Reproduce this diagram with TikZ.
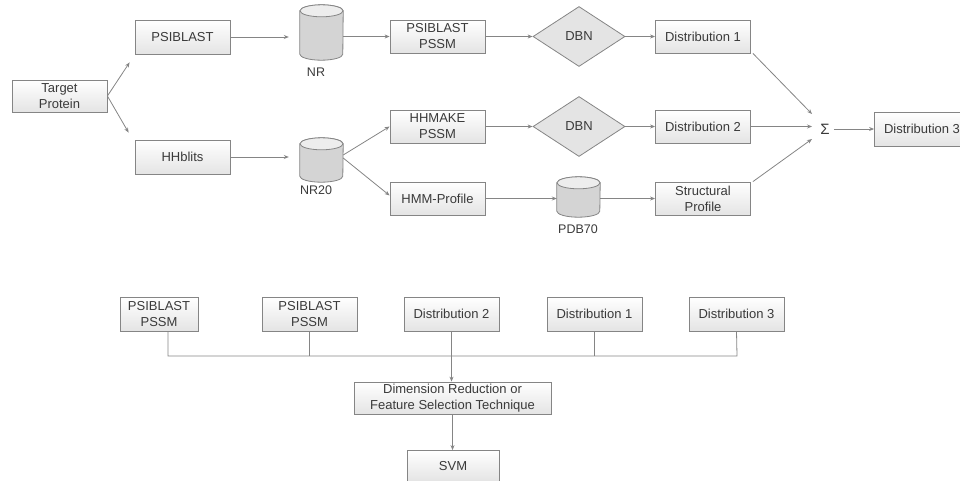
\documentclass[tikz,border=0pt]{standalone}
\usepackage{fontspec}
\setmainfont{Liberation Sans}
\usetikzlibrary{shapes.geometric,arrows.meta}
\definecolor{linegray}{HTML}{858585}
\definecolor{boxgray}{HTML}{E4E4E4}
\definecolor{txtgray}{HTML}{3A3A3A}
\definecolor{cylbody}{HTML}{D4D4D4}
\definecolor{cyltop}{HTML}{EDEDED}
\newcommand\drawcyl[1]{%
  \path[draw=linegray,line width=0.8pt,fill=cylbody]
    ([yshift=-6pt]#1.north west) -- ([yshift=6pt]#1.south west)
    arc[start angle=180,end angle=360,x radius=21.5pt,y radius=6pt]
    -- ([yshift=-6pt]#1.north east)
    arc[start angle=0,end angle=180,x radius=21.5pt,y radius=6pt] -- cycle;
  \path[draw=linegray,line width=0.8pt,fill=cyltop]
    ([yshift=-6pt]#1.north) ellipse[x radius=21.5pt,y radius=6pt];
}
\begin{document}
\begin{tikzpicture}[x=1pt,y=-1pt,
  box/.style={draw=linegray,line width=0.8pt,top color=white,bottom color=boxgray,
    minimum width=95pt,minimum height=33pt,inner sep=1pt,align=center,
    font=\fontsize{13}{16}\selectfont,text=txtgray},
  dbn/.style={diamond,draw=linegray,line width=0.8pt,fill=boxgray,
    minimum width=92pt,minimum height=60pt,inner sep=0pt,
    font=\fontsize{13}{16}\selectfont,text=txtgray},
  cylnode/.style={rectangle,draw=none,inner sep=0pt,minimum width=43pt},
  dblbl/.style={font=\fontsize{12.5}{15}\selectfont,text=txtgray,inner sep=0pt},
  conn/.style={draw=linegray,line width=0.8pt},
  arr/.style={conn,-{Stealth[length=5pt,width=4pt]}}
]
\useasboundingbox (0,0) rectangle (960,480);

% top section
\node[box,minimum height=32pt] (tp) at (59.5,96) {Target\\Protein};
\node[box,minimum height=34pt] (psi) at (182.5,37) {PSIBLAST};
\node[box,minimum height=34pt] (hhb) at (182.5,157) {HHblits};

\node[cylnode,minimum height=55pt] (nr) at (321.5,32.5) {};
\drawcyl{nr}
\node[dblbl] (nrl) at (316,72) {NR};

\node[cylnode,minimum height=44pt] (nr20) at (321.5,160) {};
\drawcyl{nr20}
\node[dblbl] (nr20l) at (316,190) {NR20};

\node[box] (pssm1) at (437.5,36.5) {PSIBLAST\\PSSM};
\node[box] (hhm) at (437.5,126.5) {HHMAKE\\PSSM};
\node[box] (hmm) at (437.5,198.5) {HMM-Profile};

\node[dbn] (dbn1) at (579,36.5) {DBN};
\node[dbn] (dbn2) at (579,126.5) {DBN};

\node[cylnode,minimum height=40pt] (pdb) at (578.5,197) {};
\drawcyl{pdb}
\node[dblbl] (pdbl) at (578,229) {PDB70};

\node[box] (d1) at (703,36.5) {Distribution 1};
\node[box] (d2) at (703,126.5) {Distribution 2};
\node[box] (sp) at (703,198.5) {Structural\\Profile};

\node[text=txtgray,font=\fontsize{15}{15}\selectfont,inner sep=0pt] (sig) at (825,129) {Σ};
\node[box,minimum height=34pt] (d3) at (922,129) {Distribution 3};

\draw[arr] (tp.east) -- ([xshift=-5pt,yshift=-8pt]psi.south west);
\draw[arr] (tp.east) -- ([xshift=-6pt,yshift=7pt]hhb.north west);
\draw[arr,shorten >=11pt] (psi.east) -- (psi.east -| nr.west);
\draw[arr,shorten >=11pt] (hhb.east) -- (hhb.east -| nr20.west);
\draw[arr] (nr.east |- pssm1.west) -- (pssm1.west);
\draw[arr] ([yshift=5pt]nr20.east) -- (hhm.west);
\draw[arr] ([yshift=2pt]nr20.east) -- ([yshift=3pt]hmm.west);
\draw[arr] (pssm1.east) -- (dbn1.west);
\draw[arr] (hhm.east) -- (dbn2.west);
\draw[arr] (hmm.east) -- (pdb.west |- hmm.east);
\draw[arr] (dbn1.east) -- (d1.west);
\draw[arr] (dbn2.east) -- (d2.west);
\draw[arr] (pdb.east |- sp.west) -- (sp.west);
\draw[arr] ([xshift=2pt]d1.south east) -- ([xshift=-13pt,yshift=15pt]sig.center);
\draw[arr] (d2.east) -- ([xshift=-13pt]sig.center |- d2.east);
\draw[arr] ([xshift=2pt]sp.north east) -- ([xshift=-13pt,yshift=-10pt]sig.center);
\draw[arr] ([xshift=4pt]sig.east) -- (sig.east -| d3.west);

% bottom section
\node[box,minimum width=78pt,minimum height=34pt] (b1) at (159,314) {PSIBLAST\\PSSM};
\node[box,minimum height=34pt] (b2) at (309.5,314) {PSIBLAST\\PSSM};
\node[box,minimum height=34pt] (b3) at (451.5,314) {Distribution 2};
\node[box,minimum height=34pt] (b4) at (594.5,314) {Distribution 1};
\node[box,minimum height=34pt] (b5) at (736.5,314) {Distribution 3};
\node[box,minimum width=197pt,minimum height=32pt] (dim) at (452.5,398) {Dimension Reduction or\\Feature Selection Technique};
\node[box,minimum width=92pt,minimum height=31pt] (svm) at (453,466) {SVM};

\coordinate (busl) at (168,356);
\coordinate (busr) at (737,356);
\draw[conn] ([xshift=9pt]b1.south) -- (busl) -- (busr) -- (b5.south);
\draw[conn] (b2.south) -- (b2.south |- busl);
\draw[conn] (b4.south) -- (b4.south |- busl);
\draw[arr] (b3.south) -- (b3.south |- dim.north);
\draw[arr] (dim.south) -- (dim.south |- svm.north);
\end{tikzpicture}
\end{document}
